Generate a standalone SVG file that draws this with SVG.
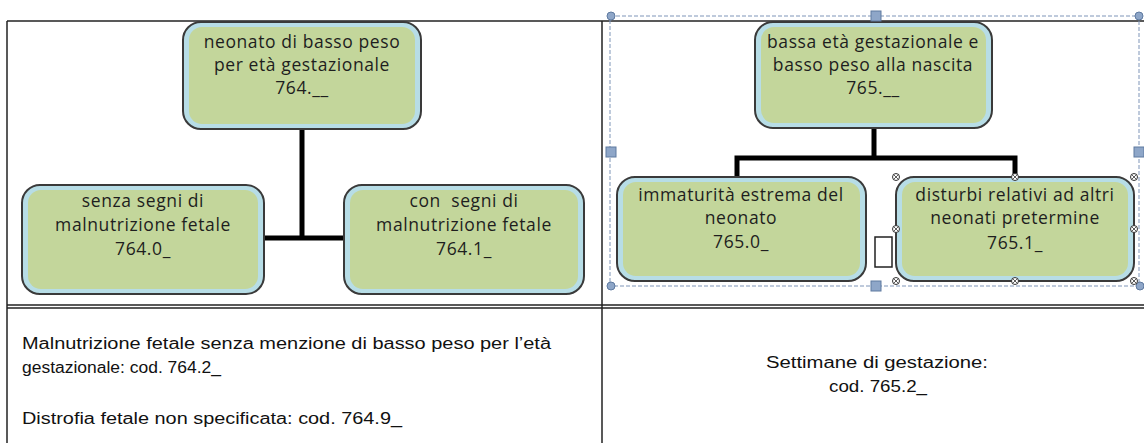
<svg xmlns="http://www.w3.org/2000/svg" width="1144" height="443" viewBox="0 0 1144 443">
<style>
.outer{fill:#b7dde6;stroke:#3a3a3a;stroke-width:2}
.inner{fill:#c3d69b}
.nt{font-family:"Open Sans","Liberation Sans",sans-serif;font-size:17.5px;letter-spacing:0.6px;fill:#1e1e1e;text-anchor:middle}
.bt{font-family:"Liberation Sans",sans-serif;font-size:16px;fill:#111}
.conn{stroke:#000;stroke-width:5;fill:none}
.grid{stroke:#222;stroke-width:1.5;fill:none}
.sel{stroke:#7f95b8;stroke-width:1;stroke-dasharray:4 2;fill:none}
.hs{fill:#8ea6c8;stroke:#5f7aa0;stroke-width:1}
.hx{fill:#fff;stroke:#333;stroke-width:1}
</style>
<g id="table">
<line class="grid" x1="7" y1="21" x2="1144" y2="21"/>
<line class="grid" x1="7" y1="21" x2="7" y2="443"/>
<line class="grid" x1="602" y1="21" x2="602" y2="443"/>
<line class="grid" x1="7" y1="305" x2="1144" y2="305"/>
<line class="grid" x1="7" y1="308" x2="1144" y2="308"/>
</g>
<g id="connectors">
<path class="conn" d="M302 130 V238 M264 238 H345"/>
<path class="conn" d="M874 128 V158 H737 V178 M874 158 H1015 V178"/>
</g>
<g id="n764">
<rect class="outer" x="183" y="22" width="238" height="107" rx="18"/>
<rect class="inner" x="189" y="27" width="226" height="97" rx="13"/>
<text class="nt" x="302" y="48">neonato di basso peso</text>
<text class="nt" x="302" y="71">per età gestazionale</text>
<text class="nt" x="302" y="94">764.__</text>
</g>
<g id="n7640">
<rect class="outer" x="22" y="185" width="242" height="109" rx="18"/>
<rect class="inner" x="28" y="190" width="230" height="99" rx="13"/>
<text class="nt" x="143" y="207">senza segni di</text>
<text class="nt" x="143" y="231">malnutrizione fetale</text>
<text class="nt" x="143" y="255">764.0_</text>
</g>
<g id="n7641">
<rect class="outer" x="344" y="185" width="240" height="109" rx="18"/>
<rect class="inner" x="350" y="190" width="228" height="99" rx="13"/>
<text class="nt" x="464" y="207" xml:space="preserve">con  segni di</text>
<text class="nt" x="464" y="231">malnutrizione fetale</text>
<text class="nt" x="464" y="255">764.1_</text>
</g>
<g id="n765">
<rect class="outer" x="755" y="22" width="237" height="106" rx="18"/>
<rect class="inner" x="761" y="27" width="225" height="96" rx="13"/>
<text class="nt" x="873" y="48">bassa età gestazionale e</text>
<text class="nt" x="873" y="71">basso peso alla nascita</text>
<text class="nt" x="873" y="94">765.__</text>
</g>
<g id="n7650">
<rect class="outer" x="617" y="177" width="249" height="104" rx="18"/>
<rect class="inner" x="623" y="182" width="237" height="94" rx="13"/>
<text class="nt" x="741" y="201">immaturità estrema del</text>
<text class="nt" x="741" y="224">neonato</text>
<text class="nt" x="741" y="248">765.0_</text>
</g>
<g id="n7651">
<rect class="outer" x="896" y="177" width="238" height="104" rx="18"/>
<rect class="inner" x="902" y="182" width="226" height="94" rx="13"/>
<text class="nt" x="1015" y="201">disturbi relativi ad altri</text>
<text class="nt" x="1015" y="224">neonati pretermine</text>
<text class="nt" x="1015" y="249">765.1_</text>
</g>
<g id="selection">
<rect class="sel" x="610" y="16" width="529" height="270"/>
<circle class="hs" cx="611" cy="16" r="4"/>
<circle class="hs" cx="1139" cy="16" r="4"/>
<circle class="hs" cx="611" cy="286" r="4"/>
<circle class="hs" cx="1140" cy="286" r="4"/>
<rect class="hs" x="871" y="11" width="10" height="10"/>
<rect class="hs" x="606" y="147" width="10" height="10"/>
<rect class="hs" x="1134" y="147" width="10" height="10"/>
<rect class="hs" x="871" y="281" width="10" height="10"/>
<rect x="875" y="237" width="17" height="30" fill="#fff" stroke="#222" stroke-width="1.5"/>
<g>
<circle class="hx" cx="896" cy="177" r="3.5"/><circle class="hx" cx="1015" cy="177" r="3.5"/><circle class="hx" cx="1134" cy="177" r="3.5"/>
<circle class="hx" cx="896" cy="229" r="3.5"/><circle class="hx" cx="1134" cy="229" r="3.5"/>
<circle class="hx" cx="896" cy="281" r="3.5"/><circle class="hx" cx="1015" cy="281" r="3.5"/><circle class="hx" cx="1134" cy="281" r="3.5"/>
<path stroke="#333" stroke-width="0.8" d="M893.5 174.5l5 5m0-5l-5 5M1012.5 174.5l5 5m0-5l-5 5M1131.5 174.5l5 5m0-5l-5 5M893.5 226.5l5 5m0-5l-5 5M1131.5 226.5l5 5m0-5l-5 5M893.5 278.5l5 5m0-5l-5 5M1012.5 278.5l5 5m0-5l-5 5M1131.5 278.5l5 5m0-5l-5 5"/>
</g>
</g>
<g id="notes">
<text class="bt" x="22" y="349" textLength="529" lengthAdjust="spacingAndGlyphs">Malnutrizione fetale senza menzione di basso peso per l’età</text>
<text class="bt" x="22" y="373" textLength="199" lengthAdjust="spacingAndGlyphs">gestazionale: cod. 764.2_</text>
<text class="bt" x="22" y="424" textLength="380" lengthAdjust="spacingAndGlyphs">Distrofia fetale non specificata: cod. 764.9_</text>
<text class="bt" x="766" y="368" textLength="222" lengthAdjust="spacingAndGlyphs">Settimane di gestazione:</text>
<text class="bt" x="829" y="392" textLength="98" lengthAdjust="spacingAndGlyphs">cod. 765.2_</text>
</g>
</svg>
